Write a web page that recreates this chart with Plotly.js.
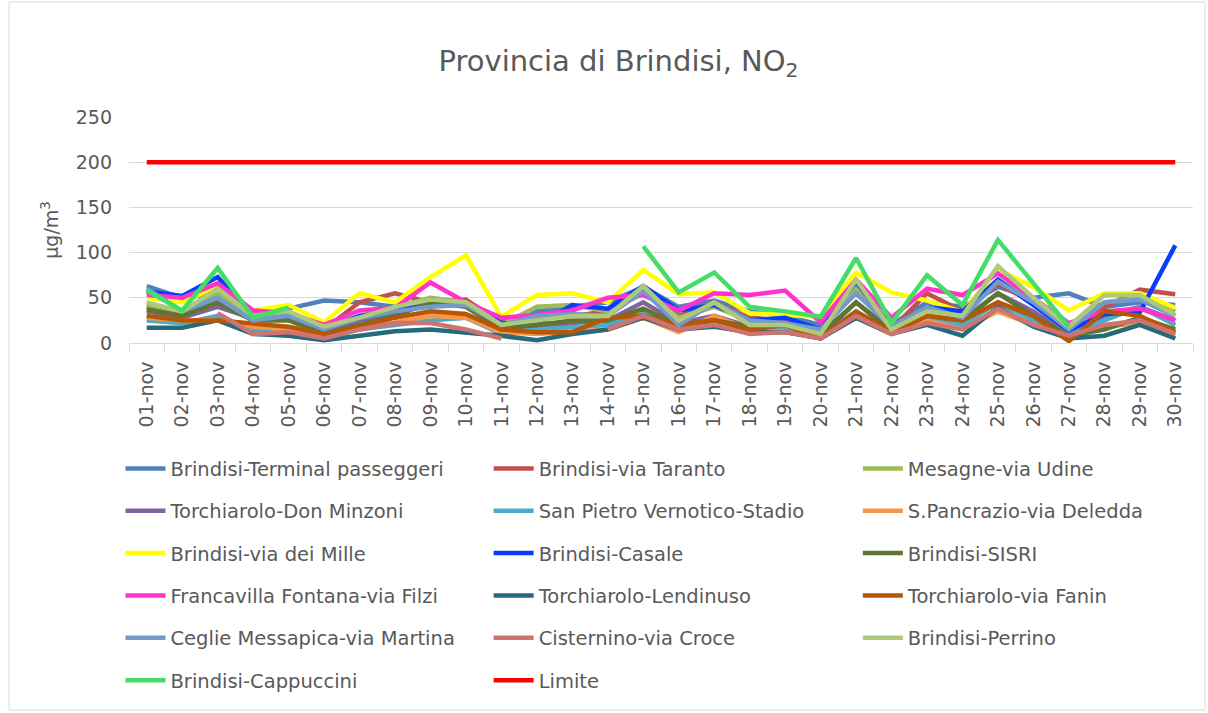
<!DOCTYPE html>
<html>
<head>
<meta charset="utf-8">
<script src="https://cdn.plot.ly/plotly-3.0.1.min.js"></script>
<style>
  html, body { margin: 0; padding: 0; background: #ffffff; }
  #chart { width: 1208px; height: 713px; }
</style>
</head>
<body>
<div id="chart"></div>
<script>
const days = ['01-nov','02-nov','03-nov','04-nov','05-nov','06-nov','07-nov','08-nov','09-nov','10-nov',
              '11-nov','12-nov','13-nov','14-nov','15-nov','16-nov','17-nov','18-nov','19-nov','20-nov',
              '21-nov','22-nov','23-nov','24-nov','25-nov','26-nov','27-nov','28-nov','29-nov','30-nov'];

const terminalPasseggeri = [63, 50, 55, 30, 38, 47, 45, 40, 45, 45, 25, 35, 40, 45, 62, 40, 47, 35, 30, 20, 55, 20, 45, 40, 62, 50, 55, 40, 45, 42];
const viaTaranto         = [40, 35, 50, 28, 30, 15, 45, 55, 45, 48, 22, 28, 30, 35, 55, 30, 45, 28, 25, 15, 60, 15, 55, 35, 65, 45, 20, 40, 59, 54];
const mesagneUdine       = [42, 35, 55, 30, 30, 15, 30, 40, 50, 45, 20, 40, 42, 35, 55, 28, 40, 25, 22, 12, 60, 18, 38, 30, 70, 45, 15, 45, 50, 35];
const donMinzoni         = [35, 28, 40, 27, 27, 12, 25, 32, 48, 45, 20, 18, 22, 25, 45, 22, 30, 18, 18, 10, 45, 15, 30, 25, 55, 35, 10, 30, 40, 25];
const sanPietroStadio    = [25, 22, 30, 15, 12, 5, 15, 20, 25, 28, 10, 15, 18, 20, 35, 18, 25, 15, 15, 8, 35, 12, 28, 20, 45, 25, 10, 25, 40, 20];
const sPancrazioDeledda  = [28, 25, 25, 18, 15, 8, 15, 22, 30, 28, 12, 10, 12, 15, 28, 12, 30, 15, 12, 5, 28, 10, 25, 15, 35, 20, 5, 18, 22, 8];
const viaDeiMille        = [50, 45, 63, 36, 42, 23, 55, 45, 73, 97, 29, 53, 55, 45, 81, 54, 56, 33, 31, 29, 78, 56, 47, 34, 81, 62, 36, 55, 55, 39];
const casale             = [57, 52, 73, 30, 30, 15, 30, 35, 45, 45, 22, 20, 42, 38, 63, 36, 42, 25, 28, 15, 68, 17, 40, 35, 70, 42, 14, 32, 34, 108];
const sisri              = [37, 30, 45, 25, 25, 10, 20, 30, 45, 40, 15, 20, 25, 25, 38, 20, 25, 18, 20, 8, 45, 12, 30, 25, 55, 30, 8, 15, 28, 15];
const francavillaFilzi   = [53, 50, 66, 36, 33, 20, 36, 39, 67, 45, 28, 31, 36, 50, 53, 36, 55, 53, 58, 23, 70, 28, 60, 53, 77, 50, 22, 35, 38, 25];
const lendinuso          = [17, 17, 25, 10, 8, 3, 8, 13, 15, 12, 8, 3, 10, 15, 28, 15, 18, 12, 12, 5, 28, 10, 20, 8, 40, 18, 5, 8, 20, 5];
const viaFanin           = [30, 25, 25, 22, 18, 10, 18, 28, 35, 32, 15, 12, 12, 28, 30, 20, 25, 15, 20, 5, 35, 12, 30, 25, 45, 30, 2, 35, 30, 12];
const cegliemartina      = [60, 35, 50, 25, 30, 15, 28, 35, 40, 42, 20, 30, 32, 30, 58, 20, 45, 25, 22, 15, 55, 18, 40, 28, 68, 45, 15, 45, 48, 30];
const cisterninoCroce    = [null, null, 33, 10, 12, 5, 15, 22, 22, 15, 5, null, null, 15, 30, 15, 20, 10, 12, 5, 30, 10, 22, 15, 38, 20, 8, 20, 25, 10];
const perrino            = [45, 35, 60, 30, 35, 18, 28, 40, 48, 45, 20, 25, 30, 30, 63, 25, 45, 20, 20, 10, 70, 15, 35, 30, 85, 50, 18, 53, 53, 31];
const cappuccini         = [58, 36, 83, 28, 39, null, null, null, null, null, null, null, null, null, 107, 56, 78, 40, 35, 29, 94, 22, 75, 42, 114, 66, 18, null, null, null];
const limite             = days.map(() => 200);

const seriesNames = ['Brindisi-Terminal passeggeri','Brindisi-via Taranto','Mesagne-via Udine',
  'Torchiarolo-Don Minzoni','San Pietro Vernotico-Stadio','S.Pancrazio-via Deledda',
  'Brindisi-via dei Mille','Brindisi-Casale','Brindisi-SISRI',
  'Francavilla Fontana-via Filzi','Torchiarolo-Lendinuso','Torchiarolo-via Fanin',
  'Ceglie Messapica-via Martina','Cisternino-via Croce','Brindisi-Perrino',
  'Brindisi-Cappuccini','Limite'];
const seriesValues = [terminalPasseggeri, viaTaranto, mesagneUdine, donMinzoni, sanPietroStadio,
  sPancrazioDeledda, viaDeiMille, casale, sisri, francavillaFilzi, lendinuso, viaFanin,
  cegliemartina, cisterninoCroce, perrino, cappuccini, limite];
const seriesColors = ['#4F81BD','#C0504D','#9BBB59','#8064A2','#4BACC6','#F79646',
  '#FFFF00','#0A3CFF','#5F7530','#FF33CC','#276A7C','#B65708',
  '#729ACA','#CD7371','#AFC97A','#44DD66','#FF0000'];
const legendIds = ['legend','legend2','legend3'];

const traces = seriesNames.map((name, i) => ({
  type: 'scatter',
  mode: 'lines',
  name: name,
  x: days,
  y: seriesValues[i],
  connectgaps: false,
  line: { color: seriesColors[i], width: 4.5 },
  legend: legendIds[i % 3],
  legendgroup: 'g' + i,
  hoverinfo: 'x+y+name'
}));

const FONT = 'DejaVu Sans, Verdana, sans-serif';
const legendFont = { family: FONT, size: 19.5, color: '#595959' };
function mkLegend(xp) {
  return {
    x: xp, y: -0.47, xanchor: 'left', yanchor: 'top',
    orientation: 'v', traceorder: 'grouped', tracegroupgap: 14,
    font: legendFont, bgcolor: 'rgba(0,0,0,0)', itemwidth: 40
  };
}

const layout = {
  width: 1208, height: 713,
  margin: { l: 129, r: 15, t: 117, b: 370 },
  paper_bgcolor: '#ffffff', plot_bgcolor: '#ffffff',
  font: { family: FONT, color: '#595959' },
  title: {
    text: 'Provincia di Brindisi, NO<sub>2</sub>',
    x: 0.512, xref: 'container', xanchor: 'center',
    y: 0.915, yref: 'container', yanchor: 'middle',
    font: { size: 29, color: '#595959', family: FONT }
  },
  xaxis: {
    type: 'category',
    range: [-0.5, 29.5], autorange: false,
    showgrid: false, zeroline: false,
    showline: true, linecolor: '#d9d9d9', linewidth: 1,
    ticks: 'outside', tickson: 'boundaries', ticklen: 8, tickcolor: '#d9d9d9',
    tickangle: -90, ticklabelstandoff: 10,
    tickfont: { size: 19, color: '#595959', family: FONT }
  },
  yaxis: {
    range: [0, 250], autorange: false, dtick: 50, tick0: 0,
    showgrid: true, gridcolor: '#d9d9d9', gridwidth: 1,
    zeroline: false, showline: false,
    ticklabelstandoff: 16,
    tickfont: { size: 19, color: '#595959', family: FONT },
    title: { text: 'μg/m<sup>3</sup>', font: { size: 19, color: '#595959', family: FONT }, standoff: 12 }
  },
  showlegend: true,
  legend: mkLegend(-0.008),
  legend2: mkLegend(0.338),
  legend3: mkLegend(0.685),
  shapes: [{
    type: 'rect', xref: 'paper', yref: 'paper',
    x0: (9 - 129) / 1064, x1: (1205 - 129) / 1064,
    y0: (343 - 710) / 226, y1: (343 - 2) / 226,
    line: { color: '#d9d9d9', width: 1 }, fillcolor: 'rgba(0,0,0,0)', layer: 'below'
  }]
};

Plotly.newPlot('chart', traces, layout, { displayModeBar: false, staticPlot: true });
</script>
</body>
</html>
